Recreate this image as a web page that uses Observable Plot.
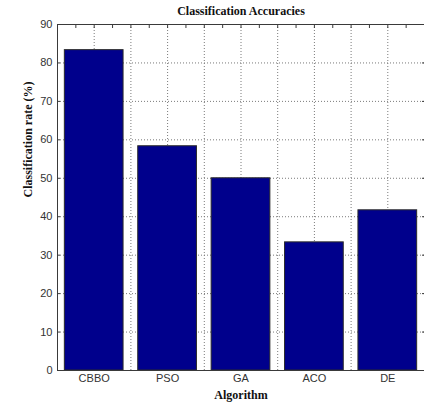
<!DOCTYPE html>
<html>
<head>
<meta charset="utf-8">
<script src="https://cdn.jsdelivr.net/npm/d3@7"></script>
<script src="https://cdn.jsdelivr.net/npm/@observablehq/plot@0.6"></script>
<style>
  html, body { margin: 0; padding: 0; background: #fff; }
  #chart svg { display: block; }
</style>
</head>
<body>
<div id="chart"></div>
<script>
// Classification accuracy of each optimisation algorithm
const algorithms = ["CBBO", "PSO", "GA", "ACO", "DE"];
const accuracies = [83.33, 58.33, 50, 33.33, 41.67];
const yTicks = [0, 10, 20, 30, 40, 50, 60, 70, 80, 90];
const titleText = "Classification Accuracies";
const xLabelText = "Algorithm";
const yLabelText = "Classification rate (%)";

const bars = algorithms.map((name, i) => ({name, pos: i + 1, value: accuracies[i]}));
const positions = bars.map(d => d.pos);
const xGrid = d3.range(1, 5.01, 0.5);        // dotted verticals every half slot
const xMinor = d3.range(0.75, 5.5, 0.25);    // small inner ticks along the top
const yGrid = yTicks.slice(1, -1);

const barWidth = 0.8;
const gridStyle = {stroke: "#7a7a7a", strokeDasharray: "1,2", strokeWidth: 1};
const boxColor = "#3a3a3a";
const serif = "'Liberation Serif', 'Times New Roman', serif";

const chart = Plot.plot({
  width: 424,
  height: 404,
  marginLeft: 57,
  marginRight: 0,
  marginTop: 24,
  marginBottom: 34,
  style: {fontFamily: "'Liberation Sans', Arial, sans-serif", fontSize: "11px", color: "#333", background: "#fff"},
  x: {domain: [0.5, 5.5]},
  y: {domain: [0, 90]},
  marks: [
    // grid
    Plot.ruleX(xGrid, {x: d => d, ...gridStyle}),
    Plot.ruleY(yGrid, {y: d => d, ...gridStyle}),
    // bars
    Plot.rectY(bars, {
      x1: d => d.pos - barWidth / 2,
      x2: d => d.pos + barWidth / 2,
      y: "value",
      fill: "#00008c",
      stroke: "#2b2b2b",
      strokeWidth: 1
    }),
    // axis box (left, bottom, top)
    Plot.ruleX([0.5], {stroke: boxColor}),
    Plot.ruleY([0, 90], {stroke: boxColor}),
    // inner tick marks
    Plot.axisY({anchor: "left", ticks: yTicks, tickSize: 3, dx: 3, tickFormat: () => "", label: null, stroke: boxColor}),
    Plot.axisY({anchor: "right", ticks: yTicks, tickSize: 3, dx: -3, tickFormat: () => "", label: null, stroke: boxColor}),
    Plot.axisX({anchor: "top", ticks: xMinor, tickSize: 3, dy: 3, tickFormat: () => "", label: null, stroke: boxColor}),
    // tick labels
    Plot.axisY({anchor: "left", ticks: yTicks, tickSize: 0, tickPadding: 5, label: null, fill: "#333"}),
    Plot.axisX({anchor: "bottom", ticks: positions, tickSize: 0, tickPadding: 4,
      tickFormat: i => algorithms[i - 1], label: null, fill: "#333"}),
    // titles
    Plot.text([titleText], {frameAnchor: "top", lineAnchor: "middle", dy: -13, fontFamily: serif,
      fontWeight: "bold", fontSize: 12, fill: "#111"}),
    Plot.text([xLabelText], {frameAnchor: "bottom", lineAnchor: "middle", dy: 25, fontFamily: serif,
      fontWeight: "bold", fontSize: 12, fill: "#111"}),
    Plot.text([yLabelText], {frameAnchor: "left", dx: -29, rotate: -90, fontFamily: serif,
      fontWeight: "bold", fontSize: 12, fill: "#111"})
  ]
});

document.getElementById("chart").appendChild(chart);
</script>
</body>
</html>
